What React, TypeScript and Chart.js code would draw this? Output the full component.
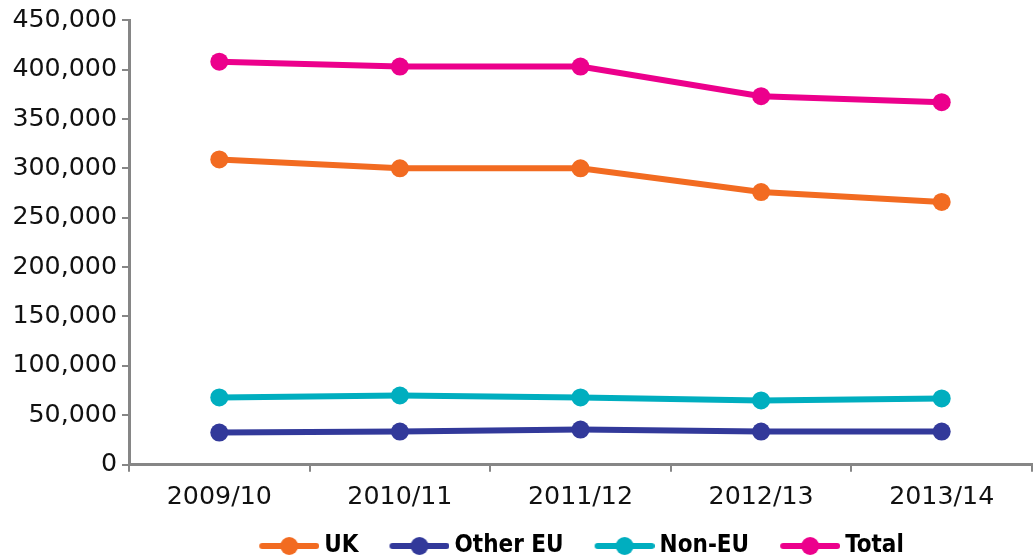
import React, { useEffect, useRef } from "react";
import { Chart, registerables } from "chart.js";

Chart.register(...registerables);

const categories = ["2009/10", "2010/11", "2011/12", "2012/13", "2013/14"];
const ukValues = [309000, 300000, 300000, 276000, 266000];
const otherEuValues = [32500, 33500, 35500, 33500, 33500];
const nonEuValues = [68000, 70000, 68000, 65000, 67000];
const totalValues = [408000, 403000, 403000, 373000, 367000];
const seriesNames = ["UK", "Other EU", "Non-EU", "Total"];
const seriesColors = ["#F26B21", "#32399A", "#00AEBF", "#EC008C"];

const AXIS = "#868686";
const FONT = "'DejaVu Sans', sans-serif";

// legend symbol: transparent lead-in (30px) then line + dot (60px)
function makeSymbol(color: string): HTMLCanvasElement {
  const c = document.createElement("canvas");
  c.width = 90;
  c.height = 22;
  const ctx = c.getContext("2d")!;
  ctx.strokeStyle = color;
  ctx.lineWidth = 6;
  ctx.lineCap = "round";
  ctx.beginPath();
  ctx.moveTo(33, 11);
  ctx.lineTo(87, 11);
  ctx.stroke();
  ctx.fillStyle = color;
  ctx.beginPath();
  ctx.arc(60, 11, 9, 0, Math.PI * 2);
  ctx.fill();
  return c;
}

const shiftLegend = {
  id: "shiftLegend",
  afterLayout(chart: any) {
    const lg = chart.legend;
    if (lg) {
      lg.left += 54;
      lg.right += 54;
    }
  },
};

export default function App() {
  const ref = useRef<HTMLCanvasElement>(null);
  useEffect(() => {
    document.body.style.margin = "0";
    const values = [ukValues, otherEuValues, nonEuValues, totalValues];
    const symbols = seriesColors.map(makeSymbol);
    const chart = new Chart(ref.current!, {
      type: "line",
      plugins: [shiftLegend],
      data: {
        labels: categories,
        datasets: seriesNames.map((name, i) => ({
          label: name,
          data: values[i],
          borderColor: seriesColors[i],
          backgroundColor: seriesColors[i],
          borderWidth: 6,
          pointRadius: 9,
          pointBackgroundColor: seriesColors[i],
          pointBorderWidth: 0,
          pointStyle: "circle",
          tension: 0,
          clip: false,
        })),
      },
      options: {
        animation: false,
        responsive: false,
        maintainAspectRatio: false,
        layout: { autoPadding: false, padding: { top: 10, right: 2, left: 0, bottom: -10 } },
        plugins: {
          tooltip: { enabled: false },
          legend: {
            position: "bottom",
            labels: {
              usePointStyle: true,
              pointStyleWidth: 76,
              boxHeight: 22,
              padding: 8,
              color: "#000",
              font: { family: "'DejaVu Sans Condensed', 'DejaVu Sans', sans-serif", size: 24, weight: "bold" },
              generateLabels: (ch: any) =>
                ch.data.datasets.map((d: any, i: number) => ({
                  text: d.label,
                  fillStyle: d.borderColor,
                  strokeStyle: d.borderColor,
                  lineWidth: 0,
                  pointStyle: symbols[i],
                  datasetIndex: i,
                  hidden: false,
                  fontColor: "#000",
                })),
            },
          },
        },
        scales: {
          x: {
            offset: true,
            border: { display: true, color: AXIS, width: 3 },
            grid: {
              display: true,
              offset: true,
              drawOnChartArea: false,
              drawTicks: true,
              tickLength: 7,
              color: AXIS,
              lineWidth: 2,
            },
            ticks: { color: "#111", font: { family: FONT, size: 25.3 }, padding: 11 },
            afterFit: (s: any) => {
              s.height += 2;
            },
          },
          y: {
            min: 0,
            max: 450000,
            border: { display: true, color: AXIS, width: 3 },
            grid: {
              display: true,
              drawOnChartArea: false,
              drawTicks: true,
              tickLength: 7,
              color: AXIS,
              lineWidth: 2,
            },
            ticks: {
              stepSize: 50000,
              color: "#111",
              padding: 5,
              font: { family: FONT, size: 25.3 },
              callback: (v: any) => Number(v).toLocaleString("en-US"),
            },
            afterFit: (s: any) => {
              s.width = 129;
            },
          },
        },
      },
    } as any);
    return () => chart.destroy();
  }, []);
  return (
    <div style={{ width: 1034, height: 558 }}>
      <canvas ref={ref} width={1034} height={558} style={{ width: 1034, height: 558 }} />
    </div>
  );
}
